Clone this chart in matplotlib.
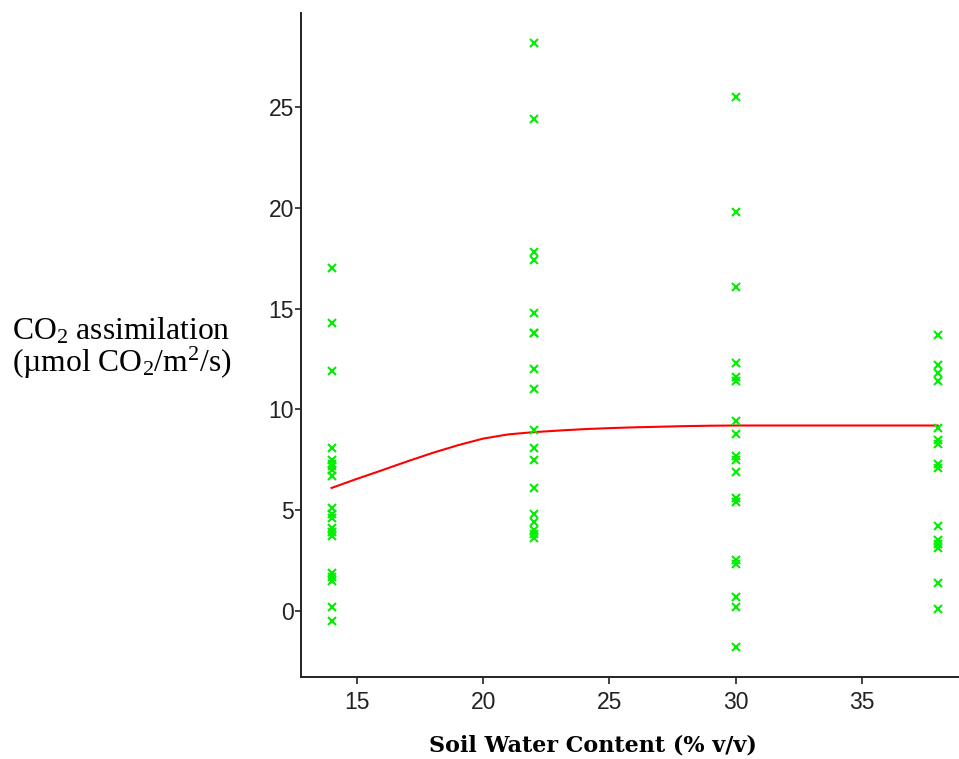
import matplotlib
matplotlib.use("Agg")
import matplotlib.pyplot as plt

plt.rcParams["mathtext.fontset"] = "custom"
plt.rcParams["mathtext.rm"] = "Liberation Serif"
plt.rcParams["mathtext.it"] = "Liberation Serif:italic"

# Soil water content levels (% v/v) and measured CO2 assimilation at each
swc_levels = [14, 22, 30, 38]
assim_14 = [17.0, 14.3, 11.9, 8.1, 7.5, 7.3, 7.2, 7.0, 6.7, 5.1, 4.8, 4.6,
            4.1, 3.9, 3.7, 1.9, 1.7, 1.5, 0.2, -0.5]
assim_22 = [28.2, 24.4, 17.8, 17.4, 14.8, 13.8, 13.8, 12.0, 11.0, 9.0, 8.1,
            7.5, 6.1, 4.8, 4.4, 4.0, 3.8, 3.6]
assim_30 = [25.5, 19.8, 16.1, 12.3, 11.6, 11.4, 9.4, 8.8, 7.7, 7.5, 6.9,
            5.6, 5.4, 2.5, 2.3, 0.7, 0.2, -1.8]
assim_38 = [13.7, 12.2, 11.8, 11.4, 9.1, 8.5, 8.3, 7.3, 7.1, 4.2, 3.5, 3.3,
            3.1, 1.4, 0.1]

# Fitted response curve
fit_x = [14, 15, 16, 17, 18, 19, 20, 21, 22, 23, 24, 25, 26, 27, 28, 29, 30,
         32, 34, 36, 38]
fit_y = [6.1, 6.55, 6.98, 7.42, 7.84, 8.22, 8.55, 8.76, 8.87, 8.95, 9.02,
         9.07, 9.11, 9.14, 9.17, 9.19, 9.2, 9.2, 9.2, 9.2, 9.2]

x_ticks = [15, 20, 25, 30, 35]
y_ticks = [0, 5, 10, 15, 20, 25]

fig = plt.figure(figsize=(9.59, 7.59), dpi=100)
ax = fig.add_axes([0.3139, 0.108, 0.686, 0.875])

for xv, ys in zip(swc_levels, [assim_14, assim_22, assim_30, assim_38]):
    ax.plot([xv] * len(ys), ys, linestyle="none", marker="x",
            markersize=5.2, markeredgewidth=1.5, color="#00ee00", zorder=3)

ax.plot(fit_x, fit_y, color="#ff0000", linewidth=1.5, zorder=2)

ax.set_xlim(12.79, 38.84)
ax.set_ylim(-3.29, 29.69)
ax.set_xticks(x_ticks)
ax.set_yticks(y_ticks)

for side in ("top", "right"):
    ax.spines[side].set_visible(False)
for side in ("left", "bottom"):
    ax.spines[side].set_linewidth(1.4)
    ax.spines[side].set_color("#222222")

ax.tick_params(axis="both", direction="out", width=1.2, color="#222222",
               labelcolor="#222222", labelsize=16.5)
ax.tick_params(axis="y", length=4, pad=1)
ax.tick_params(axis="x", length=5, pad=5)
for lab in ax.get_xticklabels() + ax.get_yticklabels():
    lab.set_fontfamily("Liberation Sans")

ax.set_xlabel("Soil Water Content (% v/v)", family="DejaVu Serif",
              fontweight="bold", fontsize=16)
ax.xaxis.set_label_coords(0.444, -0.1024, transform=ax.transAxes)
ax.xaxis.label.set_va("center")

fig.text(12 / 959, 1 - 339 / 759, "CO$_2$ assimilation",
         family="Liberation Serif", fontsize=22.8, ha="left", va="baseline")
fig.text(12 / 959, 1 - 372 / 759, "(\u00b5mol CO$_2$/m$^2$/s)",
         family="Liberation Serif", fontsize=22.8, ha="left", va="baseline")

fig.savefig("out.png", dpi=100)
